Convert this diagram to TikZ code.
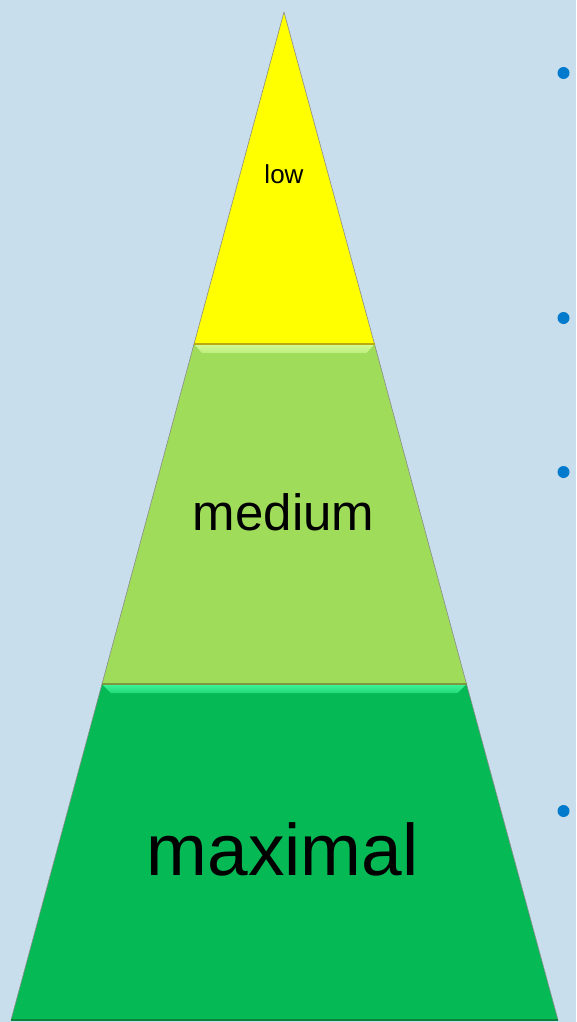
\documentclass[tikz,border=0pt]{standalone}
\usepackage{fontspec}
\setmainfont{Liberation Sans}
\usetikzlibrary{calc}
\definecolor{slidebg}{RGB}{201,222,236}
\definecolor{lowyellow}{RGB}{255,255,0}
\definecolor{medgreen}{RGB}{158,220,90}
\definecolor{medlight}{RGB}{210,250,150}
\definecolor{maxgreen}{RGB}{5,185,85}
\definecolor{maxlight}{RGB}{60,245,150}
\definecolor{bulletblue}{RGB}{0,122,204}

\begin{document}
\begin{tikzpicture}[x=1pt, y=-1pt,
    band/.style={draw=black!45, line width=0.6pt, line join=round},
    seam/.style={line width=1.6pt},
    tier/.style={inner sep=0pt, anchor=base, text=black},
    bullet/.style={circle, fill=bulletblue, inner sep=0pt, minimum size=12pt}
]
\useasboundingbox (0,0) rectangle (576,1022);
\fill[slidebg] (0,0) rectangle (576,1022);
% corners of the three tiers
\coordinate (top) at (284,12);
\coordinate (l1) at (194,344);  \coordinate (r1) at (374.5,344);
\coordinate (l2) at (102,684);  \coordinate (r2) at (466.5,684);
\coordinate (l3) at (11,1020);  \coordinate (r3) at (558,1020);
% tiers
\draw[band, fill=lowyellow] (top) -- (r1) -- (l1) -- cycle;
\draw[band, fill=medgreen] (l1) -- (r1) -- (r2) -- (l2) -- cycle;
\draw[band, fill=maxgreen] (l2) -- (r2) -- (r3) -- (l3) -- cycle;
% bevel on the upper edge
\shade[top color=medlight, bottom color=medgreen!40!medlight]
    (l1) -- (r1) -- ($(r1)+(-8,9)$) -- ($(l1)+(8,9)$) -- cycle;
\shade[top color=maxlight, bottom color=maxgreen!45!maxlight]
    (l2) -- (r2) -- ($(r2)+(-9,9)$) -- ($(l2)+(9,9)$) -- cycle;
\draw[seam, draw={rgb,255:red,185;green,170;blue,20}] (l1) -- (r1);
\draw[seam, draw={rgb,255:red,125;green,150;blue,65}] (l2) -- (r2);
\draw[seam, draw={rgb,255:red,10;green,130;blue,60}] (l3) -- (r3);
% labels
\node[tier, font=\fontsize{26}{26}\selectfont] (low) at (284,183) {low};
\node[tier, font=\fontsize{51}{51}\selectfont] (medium) at (283.5,530) {medium};
\node[tier, font=\fontsize{73}{73}\selectfont] (maximal) at (282.5,875) {maximal};
% bullets on the right
\foreach \y [count=\i] in {73,318,472,811}
    \node[bullet] (dot\i) at (563.5,\y) {};
\end{tikzpicture}
\end{document}
